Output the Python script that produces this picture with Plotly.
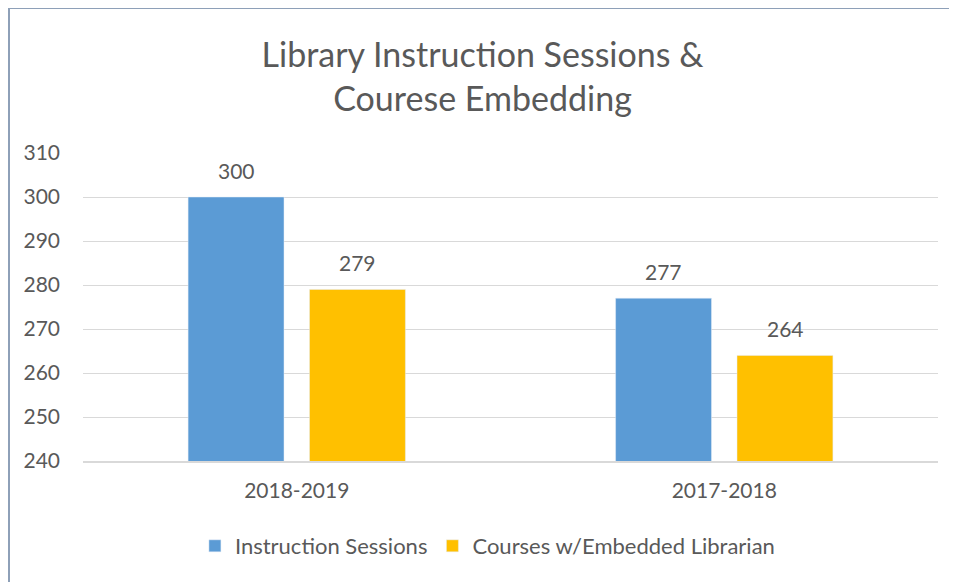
import plotly.graph_objects as go

# Chart data
years = ["2018-2019", "2017-2018"]
instruction_sessions = [300, 277]
embedded_courses = [279, 264]
y_ticks = [240, 250, 260, 270, 280, 290, 300, 310]

font_family = "Lato, Open Sans, sans-serif"
text_color = "#595959"

series = [
    ("Instruction Sessions", instruction_sessions, "#5B9BD5"),
    ("Courses w/Embedded Librarian", embedded_courses, "#FFC000"),
]

fig = go.Figure()
for name, values, color in series:
    fig.add_trace(go.Bar(x=years, y=values, name=name, marker_color=color))

# Data labels sit a bit higher above the bars than plotly's default outside text
for i, (name, values, color) in enumerate(series):
    for year, v in zip(years, values):
        fig.add_annotation(
            x=year, y=v, text=str(v), showarrow=False,
            xshift=(-60.75 if i == 0 else 60.75), yshift=27,
            font=dict(size=21, color=text_color),
        )

fig.update_layout(
    width=949, height=574,
    paper_bgcolor="white", plot_bgcolor="white",
    font=dict(family=font_family, color=text_color, size=21),
    title=dict(
        text="Library Instruction Sessions &<br>Courese Embedding",
        x=0.5, xanchor="center", y=0.897, yanchor="middle",
        font=dict(size=34, color=text_color),
    ),
    barmode="group", bargap=0.432, bargroupgap=0.21,
    margin=dict(l=75, r=19, t=145, b=121),
    legend=dict(
        orientation="h", x=0.473, xanchor="center", y=-0.276, yanchor="middle",
        font=dict(size=22, color=text_color),
    ),
    showlegend=True,
)

fig.update_yaxes(
    range=[240, 310], tickvals=y_ticks, showgrid=True,
    gridcolor="#D9D9D9", gridwidth=1, zeroline=False,
    ticks="", ticklabelstandoff=22,
    tickfont=dict(size=21, color=text_color),
)
fig.update_xaxes(
    showline=True, linecolor="#D9D9D9", linewidth=1.5,
    ticks="", ticklabelstandoff=10,
    tickfont=dict(size=21, color=text_color),
)

# Outer chart border (cropped at right/bottom)
fig.add_shape(
    type="rect", xref="paper", yref="paper",
    x0=-74 / 855, x1=(980 - 75) / 855,
    y0=-(600 - 453) / 308, y1=1 + 145 / 308,
    line=dict(color="#8EA0B8", width=2), fillcolor="rgba(0,0,0,0)",
    layer="below",
)

fig.write_html("out.html")
